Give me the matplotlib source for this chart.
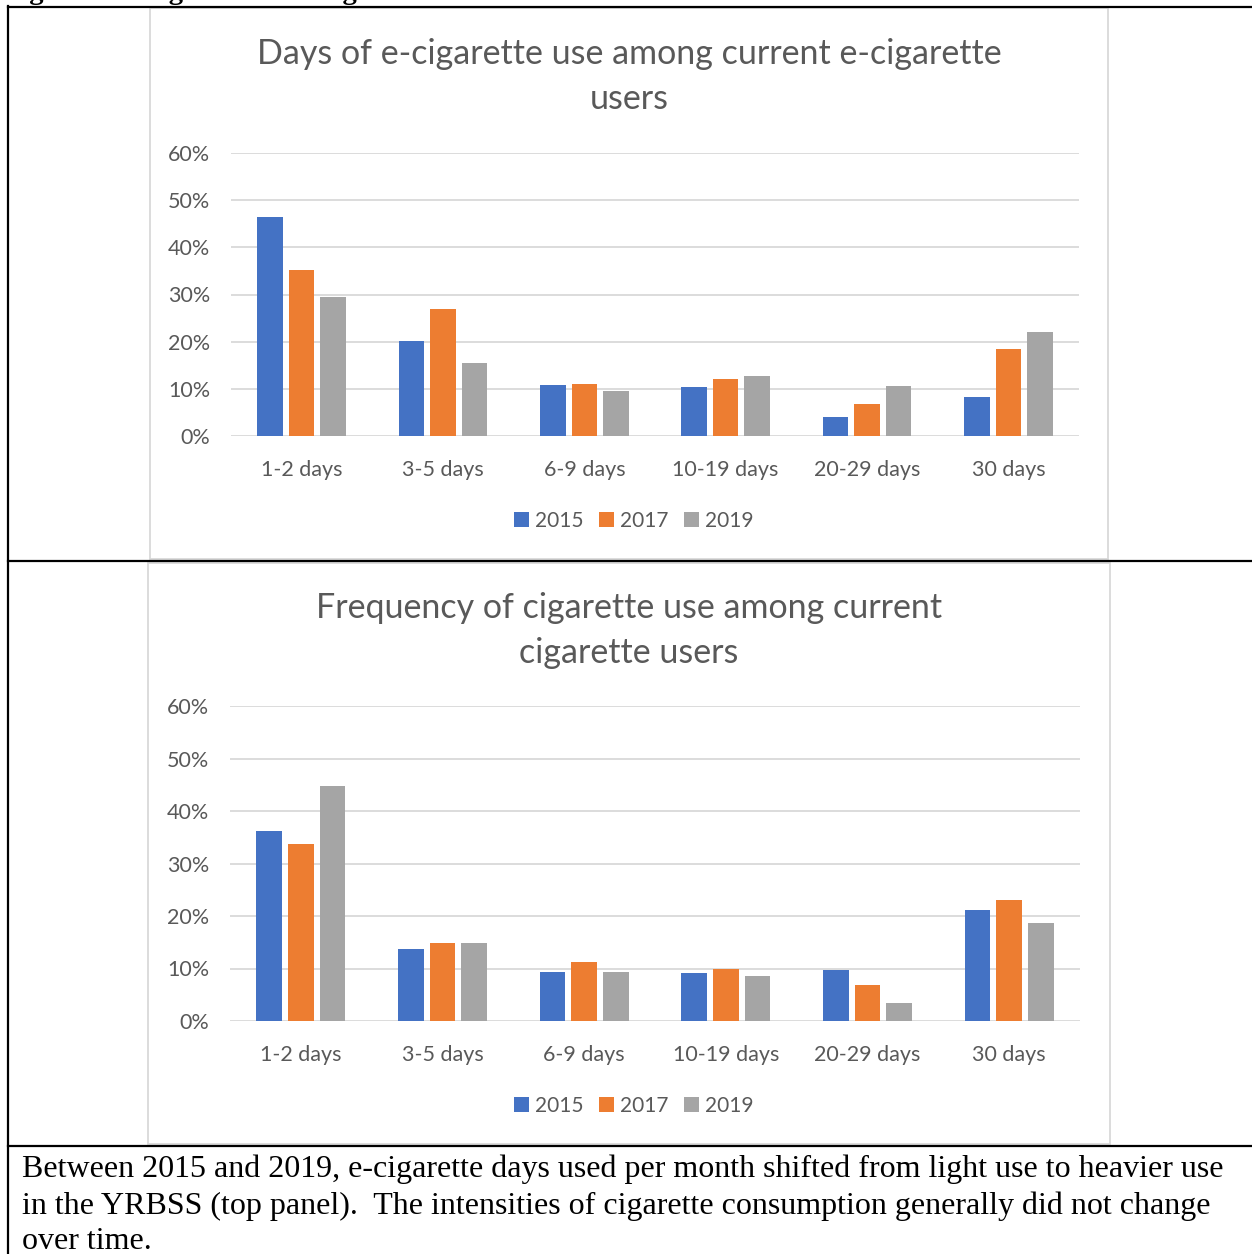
import numpy as np
import matplotlib.pyplot as plt
from matplotlib.patches import Rectangle
from matplotlib.lines import Line2D

W, H = 1252, 1254

categories = ["1-2 days", "3-5 days", "6-9 days", "10-19 days", "20-29 days", "30 days"]
years = ["2015", "2017", "2019"]
colors = ["#4472C4", "#ED7D31", "#A5A5A5"]

# top panel: e-cigarette days used (% of current users)
ecig_2015 = [46.4, 20.1, 10.8, 10.3, 4.0, 8.2]
ecig_2017 = [35.1, 27.0, 11.0, 12.0, 6.7, 18.4]
ecig_2019 = [29.4, 15.5, 9.6, 12.7, 10.7, 22.0]

# bottom panel: cigarette days used (% of current users)
cig_2015 = [36.1, 13.8, 9.4, 9.1, 9.8, 21.2]
cig_2017 = [33.7, 14.8, 11.3, 10.0, 6.8, 23.0]
cig_2019 = [44.8, 14.9, 9.3, 8.6, 3.4, 18.6]

yticks = [0, 10, 20, 30, 40, 50, 60]

title_top = "Days of e-cigarette use among current e-cigarette\nusers"
title_bottom = "Frequency of cigarette use among current\ncigarette users"
caption = ("Between 2015 and 2019, e-cigarette days used per month shifted from light use to heavier use\n"
           "in the YRBSS (top panel).  The intensities of cigarette consumption generally did not change\n"
           "over time.")
heading = "Figure 5. E-cigarette and Cigarette Use in YRBSS"

plt.rcParams['font.family'] = ['Lato', 'DejaVu Sans']
GREY = "#595959"


def px_rect(x0, y0, x1, y1):
    return [x0 / W, 1 - y1 / H, (x1 - x0) / W, (y1 - y0) / H]


def fx(x):
    return x / W


def fy(y):
    return 1 - y / H


def bar_panel(ax, series, legend_y):
    x = np.arange(len(categories))
    step = 0.223
    for i, (vals, yr, c) in enumerate(zip(series, years, colors)):
        ax.bar(x + (i - 1) * step, vals, width=0.18, color=c, label=yr, zorder=3)
    ax.set_xlim(-0.5, len(categories) - 0.5)
    ax.set_ylim(0, 60)
    ax.set_yticks(yticks)
    ax.set_yticklabels([f"{t}%" for t in yticks])
    ax.set_xticks(x)
    ax.set_xticklabels(categories)
    ax.grid(axis='y', color="#D9D9D9", lw=1.3, zorder=0)
    for s in ax.spines.values():
        s.set_visible(False)
    ax.tick_params(length=0, labelsize=15.5, colors=GREY)
    ax.tick_params(axis='y', pad=15)
    ax.tick_params(axis='x', pad=17)
    ax.set_axisbelow(True)
    leg = ax.legend(loc='center', bbox_to_anchor=(fx(634), fy(legend_y)),
                    bbox_transform=fig.transFigure, ncol=3, frameon=False,
                    handlelength=0.7, handleheight=0.7, handletextpad=0.3,
                    columnspacing=0.75, fontsize=15)
    for t in leg.get_texts():
        t.set_color(GREY)


fig = plt.figure(figsize=(W / 100, H / 100), dpi=100)

# table lines of the document page
line_kw = dict(color="black", lw=1.6, transform=fig.transFigure)
fig.add_artist(Line2D([fx(8), fx(8)], [fy(6), fy(1254)], **line_kw))
fig.add_artist(Line2D([fx(8), fx(1252)], [fy(7), fy(7)], **line_kw))
fig.add_artist(Line2D([fx(8), fx(1252)], [fy(561), fy(561)], **line_kw))
fig.add_artist(Line2D([fx(8), fx(1252)], [fy(1146), fy(1146)], **line_kw))

# chart frames
fig.add_artist(Rectangle((fx(150), fy(559)), (1108 - 150) / W, (559 - 8) / H,
                         transform=fig.transFigure, fill=False, edgecolor="#D9D9D9", lw=1.3))
fig.add_artist(Rectangle((fx(148), fy(1144)), (1110 - 148) / W, (1144 - 563) / H,
                         transform=fig.transFigure, fill=False, edgecolor="#D9D9D9", lw=1.3))

ax1 = fig.add_axes(px_rect(231, 153, 1079, 436))
bar_panel(ax1, [ecig_2015, ecig_2017, ecig_2019], 521)
fig.text(fx(629), fy(76.5), title_top, ha='center', va='center', fontsize=24.5,
         color=GREY, linespacing=1.5)

ax2 = fig.add_axes(px_rect(230, 706, 1080, 1021))
bar_panel(ax2, [cig_2015, cig_2017, cig_2019], 1106)
fig.text(fx(629), fy(630.5), title_bottom, ha='center', va='center', fontsize=24.5,
         color=GREY, linespacing=1.5)

fig.text(fx(22), fy(1205.5), caption, ha='left', va='center', fontsize=23,
         family='Liberation Serif', linespacing=1.3)
fig.text(fx(4), fy(-1), heading, ha='left', va='baseline', fontsize=20.5,
         family='Liberation Serif', fontweight='bold')

fig.savefig("out.png", dpi=100)
